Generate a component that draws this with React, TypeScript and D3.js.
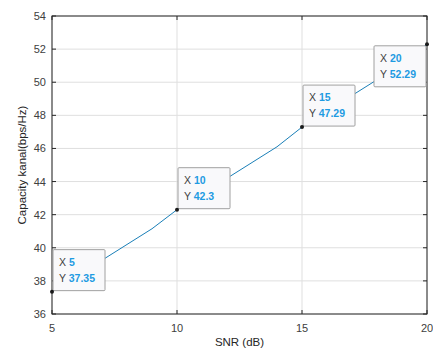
import React from "react";
import * as d3 from "d3";

// SNR (dB) vs channel capacity
const snr = [5, 6, 7, 8, 9, 10, 11, 12, 13, 14, 15, 16, 17, 18, 19, 20];
const capacity = [
  37.35, 38.3, 39.25, 40.2, 41.15, 42.3, 43.25, 44.2, 45.15, 46.1, 47.29,
  48.25, 49.2, 50.15, 51.1, 52.29,
];
const xTicks = [5, 10, 15, 20];
const yTicks = [36, 38, 40, 42, 44, 46, 48, 50, 52, 54];
// data tips shown on the plot: [x, y, label y, side]
const tips: [number, number, string, "right" | "left"][] = [
  [5, 37.35, "37.35", "right"],
  [10, 42.3, "42.3", "right"],
  [15, 47.29, "47.29", "right"],
  [20, 52.29, "52.29", "left"],
];

const W = 433;
const H = 352;
const m = { left: 52, right: 6, top: 16, bottom: 38 };
const font = "Helvetica, Arial, 'Liberation Sans', sans-serif";

export default function App() {
  const x = d3.scaleLinear().domain([5, 20]).range([m.left, W - m.right]);
  const y = d3.scaleLinear().domain([36, 54]).range([H - m.bottom, m.top]);
  const pts = snr.map((s, i) => [s, capacity[i]] as [number, number]);
  const line = d3
    .line<[number, number]>()
    .x((d) => x(d[0]))
    .y((d) => y(d[1]));

  const x0 = x.range()[0];
  const x1 = x.range()[1];
  const y0 = y.range()[0];
  const y1 = y.range()[1];
  const tl = 4;

  return (
    <svg
      width={W}
      height={H}
      style={{ position: "absolute", left: 0, top: 0, background: "#fff" }}
      fontFamily={font}
    >
      {/* grid */}
      {xTicks.map((t) => (
        <line key={"gx" + t} x1={x(t)} x2={x(t)} y1={y0} y2={y1} stroke="#dfdfdf" />
      ))}
      {yTicks.map((t) => (
        <line key={"gy" + t} x1={x0} x2={x1} y1={y(t)} y2={y(t)} stroke="#dfdfdf" />
      ))}

      {/* series */}
      <path d={line(pts) || ""} fill="none" stroke="#1a7fb8" strokeWidth={1} />

      {/* frame + ticks */}
      <rect x={x0} y={y1} width={x1 - x0} height={y0 - y1} fill="none" stroke="#262626" strokeWidth={1} />
      {xTicks.map((t) => (
        <g key={"tx" + t}>
          <line x1={x(t)} x2={x(t)} y1={y0} y2={y0 - tl} stroke="#262626" />
          <line x1={x(t)} x2={x(t)} y1={y1} y2={y1 + tl} stroke="#262626" />
          <text x={x(t)} y={y0 + 18} fontSize={11} fill="#404040" textAnchor="middle">
            {t}
          </text>
        </g>
      ))}
      {yTicks.map((t) => (
        <g key={"ty" + t}>
          <line x1={x0} x2={x0 + tl} y1={y(t)} y2={y(t)} stroke="#262626" />
          <line x1={x1} x2={x1 - tl} y1={y(t)} y2={y(t)} stroke="#262626" />
          <text x={x0 - 6} y={y(t) + 4} fontSize={11} fill="#404040" textAnchor="end">
            {t}
          </text>
        </g>
      ))}

      {/* axis labels */}
      <text x={(x0 + x1) / 2} y={H - 6} fontSize={11.5} fill="#262626" textAnchor="middle">
        SNR (dB)
      </text>
      <text
        transform={`translate(26,${(y0 + y1) / 2}) rotate(-90)`}
        fontSize={11.5}
        fill="#262626"
        textAnchor="middle"
      >
        Capacity kanal(bps/Hz)
      </text>

      {/* data tips */}
      {tips.map(([tx, ty, lab, side]) => {
        const px = x(tx);
        const py = y(ty);
        const bw = 52;
        const bh = 41;
        const bx = side === "right" ? px + 1 : px - bw - 1;
        const by = side === "right" ? py - bh - 1 : py + 1.5;
        return (
          <g key={"tip" + tx}>
            <rect x={bx} y={by} width={bw} height={bh} fill="#f9f9fb" stroke="#a0a0a0" rx={1} />
            <text x={bx + 6} y={by + 16} fontSize={10.5} fill="#404040">
              X <tspan fill="#1e9be2" fontWeight="bold">{tx}</tspan>
            </text>
            <text x={bx + 6} y={by + 32} fontSize={10.5} fill="#404040">
              Y <tspan fill="#1e9be2" fontWeight="bold">{lab}</tspan>
            </text>
            <circle cx={px} cy={py} r={2} fill="#1a1a1a" />
          </g>
        );
      })}
    </svg>
  );
}
